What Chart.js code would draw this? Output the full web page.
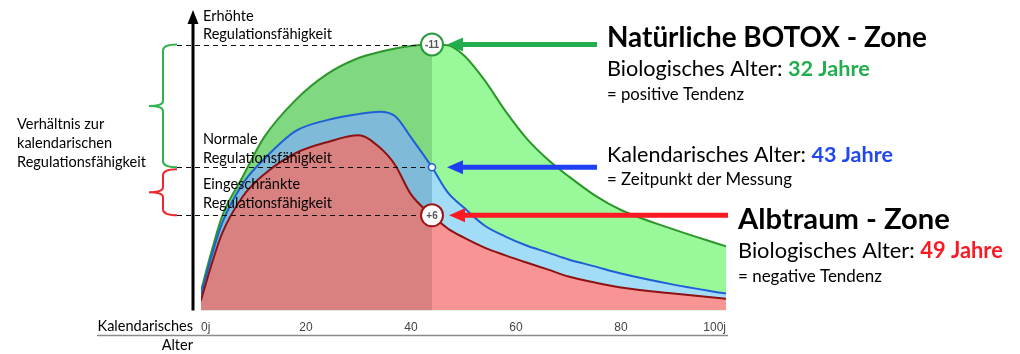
<!DOCTYPE html>
<html><head><meta charset="utf-8">
<script src="https://cdn.jsdelivr.net/npm/chart.js"></script>
<style>html,body{margin:0;padding:0;background:#fff;overflow:hidden}</style>
</head><body>
<canvas id="c" width="1020" height="354"></canvas>
<script>
// ---- data ----
const ages        = [0, 2, 4, 8, 12, 18, 24, 30, 34, 37, 40, 44, 47, 50, 54, 58, 62, 66, 70, 75, 80, 90, 100];
const greenValues = [6.7, 19.8, 31.5, 45, 58, 70.5, 79.2, 84.6, 86.6, 87.8, 88.6, 89.1, 88.9, 85.6, 77.2, 66.8, 57.7, 50.7, 45, 38.6, 33.7, 27.2, 21.5];
const blueValues  = [5.2, 18.1, 29.2, 42.6, 50.7, 60.1, 63.8, 65.8, 66.6, 65.1, 58, 48, 39.6, 34.6, 28.5, 24.8, 21.8, 19.5, 17.1, 14.8, 12.4, 8.7, 5.7];
const redValues   = [3.4, 15.4, 25.8, 38.3, 45.6, 52.7, 56.4, 58.7, 54.7, 48.7, 38.9, 31.9, 27.5, 24.5, 21.1, 18.5, 16.1, 13.8, 11.4, 9.4, 7.7, 5.7, 4.0];
const tickLabels  = {0: '0j', 20: '20', 40: '40', 60: '60', 80: '80', 100: '100j'};
const measureAge  = 44;
const markerTexts = ['+6', '', '-11'];   // red, blue, green

const F = 'Lato, "Open Sans", sans-serif';

function pts(vals){ return ages.map((a,i)=>({x:a, y:vals[i]})); }
function seg(dark, light){ return { backgroundColor: c => (c.p0.parsed.x < measureAge ? dark : light) }; }

const decor = {
  id: 'decor',
  afterDraw(chart){
    const {ctx, scales:{x, y}, chartArea:ca} = chart;
    ctx.save();
    function fit(str, weight, target){
      ctx.font = weight + ' 100px ' + F;
      return 100 * target / ctx.measureText(str).width;
    }
    function fitMixed(a, b, target){
      ctx.font = '100px ' + F; const wa = ctx.measureText(a).width;
      ctx.font = 'bold 100px ' + F; const wb = ctx.measureText(b).width;
      return 100 * target / (wa + wb);
    }
    // vertical axis with arrow
    const ax = ca.left - 8;
    ctx.strokeStyle = '#000'; ctx.lineWidth = 3;
    ctx.beginPath(); ctx.moveTo(ax, ca.bottom); ctx.lineTo(ax, ca.top + 10); ctx.stroke();
    ctx.fillStyle = '#000';
    ctx.beginPath(); ctx.moveTo(ax, ca.top - 2); ctx.lineTo(ax - 5.5, ca.top + 12); ctx.lineTo(ax + 5.5, ca.top + 12); ctx.closePath(); ctx.fill();

    // x axis base line
    ctx.strokeStyle = '#8a8a8a'; ctx.lineWidth = 1.5;
    ctx.beginPath(); ctx.moveTo(97, 335.5); ctx.lineTo(ca.right + 2, 335.5); ctx.stroke();

    // marker positions
    const mx = x.getPixelForValue(measureAge);
    const idx = ages.indexOf(measureAge);
    const gy = y.getPixelForValue(greenValues[idx]);
    const by = y.getPixelForValue(blueValues[idx]);
    const ry = y.getPixelForValue(redValues[idx]);

    // dashed guides
    ctx.strokeStyle = '#111'; ctx.lineWidth = 1; ctx.setLineDash([5, 4]);
    [[gy, mx - 12], [by, mx - 5], [ry, mx - 12]].forEach(([yy, xe]) => {
      ctx.beginPath(); ctx.moveTo(177, Math.round(yy) + 0.5); ctx.lineTo(xe, Math.round(yy) + 0.5); ctx.stroke();
    });
    ctx.setLineDash([]);

    // braces
    function brace(top, bot, color){
      const mid = (top + bot) / 2, sx = 163, ex = 177, tx = 149;
      ctx.strokeStyle = color; ctx.lineWidth = 2;
      ctx.beginPath();
      ctx.moveTo(ex, top);
      ctx.quadraticCurveTo(sx, top, sx, top + 6);
      ctx.lineTo(sx, mid - 5);
      ctx.quadraticCurveTo(sx, mid, tx, mid);
      ctx.quadraticCurveTo(sx, mid, sx, mid + 5);
      ctx.lineTo(sx, bot - 6);
      ctx.quadraticCurveTo(sx, bot, ex, bot);
      ctx.stroke();
    }
    brace(gy, by, '#2fb34a');
    brace(by + 2, ry, '#f0282d');

    // arrows
    function arrow(tip, tail, yy, color){
      ctx.strokeStyle = color; ctx.fillStyle = color; ctx.lineWidth = 5;
      ctx.beginPath(); ctx.moveTo(tail, yy); ctx.lineTo(tip + 12, yy); ctx.stroke();
      ctx.beginPath(); ctx.moveTo(tip, yy); ctx.lineTo(tip + 16, yy - 7); ctx.lineTo(tip + 16, yy + 7); ctx.closePath(); ctx.fill();
    }
    arrow(mx + 15, 597, gy, '#22ad4f');
    arrow(mx + 15, 597, by, '#1f3ff2');
    arrow(mx + 17, 728, ry, '#fb1a24');

    // markers
    function marker(yy, r, color, lw, txt){
      ctx.fillStyle = '#fff'; ctx.strokeStyle = color; ctx.lineWidth = lw;
      ctx.beginPath(); ctx.arc(mx, yy, r, 0, Math.PI * 2); ctx.fill(); ctx.stroke();
      if (txt){
        ctx.fillStyle = '#555'; ctx.font = 'bold 10px "Liberation Sans", Arial, sans-serif';
        ctx.textAlign = 'center'; ctx.textBaseline = 'middle';
        ctx.fillText(txt, mx, yy + 0.5);
      }
    }
    marker(gy, 11, '#2c9a3a', 2, markerTexts[2]);
    marker(by, 3.5, '#1f5fd6', 1.5, markerTexts[1]);
    marker(ry, 11, '#a3151a', 2, markerTexts[0]);

    // texts
    ctx.textAlign = 'left'; ctx.textBaseline = 'alphabetic'; ctx.fillStyle = '#000';
    const small = fit('Regulationsfähigkeit', '', 129);
    ctx.font = small + 'px ' + F;
    ctx.fillText('Erhöhte', 203, 21);
    ctx.fillText('Regulationsfähigkeit', 203, 39);
    ctx.fillText('Normale', 203, 144);
    ctx.fillText('Regulationsfähigkeit', 203, 163);
    ctx.fillText('Eingeschränkte', 203, 189);
    ctx.fillText('Regulationsfähigkeit', 203, 208);
    ctx.fillText('Verhältnis zur', 17, 129);
    ctx.fillText('kalendarischen', 17, 148);
    ctx.fillText('Regulationsfähigkeit', 17, 167);
    ctx.textAlign = 'right';
    ctx.fillText('Kalendarisches', 193, 331);
    ctx.fillText('Alter', 193, 350);
    ctx.textAlign = 'left';

    function mixed(x0, yb, a, b, colorB, target){
      const size = fitMixed(a, b, target);
      ctx.font = size + 'px ' + F; ctx.fillStyle = '#000';
      ctx.fillText(a, x0, yb);
      const w = ctx.measureText(a).width;
      ctx.font = 'bold ' + size + 'px ' + F; ctx.fillStyle = colorB;
      ctx.fillText(b, x0 + w, yb);
    }
    function plain(str, x0, yb, weight, target){
      ctx.font = weight + ' ' + fit(str, weight, target) + 'px ' + F; ctx.fillStyle = '#000';
      ctx.fillText(str, x0, yb);
    }
    plain('Natürliche BOTOX - Zone', 607, 47, 'bold', 320);
    mixed(607, 76, 'Biologisches Alter: ', '32 Jahre', '#22ad4f', 263);
    plain('= positive Tendenz', 607, 100, '', 137);
    mixed(607, 162, 'Kalendarisches Alter: ', '43 Jahre', '#1f47f2', 286);
    plain('= Zeitpunkt der Messung', 607, 185, '', 185);
    plain('Albtraum - Zone', 738, 229, 'bold', 212);
    mixed(738, 258, 'Biologisches Alter: ', '49 Jahre', '#fb1a24', 265);
    plain('= negative Tendenz', 738, 282, '', 144);
    ctx.restore();
  }
};

new Chart(document.getElementById('c'), {
  type: 'line',
  data: {
    datasets: [
      { label: 'Eingeschränkt', data: pts(redValues), borderColor: '#8e1212', borderWidth: 2,
        fill: 'origin', backgroundColor: '#f89494', segment: seg('#d98080', '#f89494') },
      { label: 'Normal', data: pts(blueValues), borderColor: '#1f5fd6', borderWidth: 2,
        fill: 'origin', backgroundColor: '#a2dcf7', segment: seg('#80bad9', '#a2dcf7') },
      { label: 'Erhöht', data: pts(greenValues), borderColor: '#2b972b', borderWidth: 2,
        fill: 'origin', backgroundColor: '#99f899', segment: seg('#80d880', '#99f899') }
    ]
  },
  options: {
    responsive: false, animation: false,
    layout: { padding: { left: 201, right: 294, top: 12, bottom: 9 } },
    elements: { point: { radius: 0, hoverRadius: 0 }, line: { cubicInterpolationMode: 'monotone' } },
    plugins: { legend: { display: false }, tooltip: { enabled: false } },
    scales: {
      x: { type: 'linear', min: 0, max: 100,
        grid: { display: false, drawTicks: false }, border: { display: false },
        ticks: { stepSize: 20, align: 'inner', padding: 10, color: '#444',
          font: { family: '"Liberation Sans", Arial, sans-serif', size: 12 },
          callback: v => tickLabels[v] !== undefined ? tickLabels[v] : '' } },
      y: { display: false, min: 0, max: 100 }
    }
  },
  plugins: [decor]
});
</script>
</body></html>
